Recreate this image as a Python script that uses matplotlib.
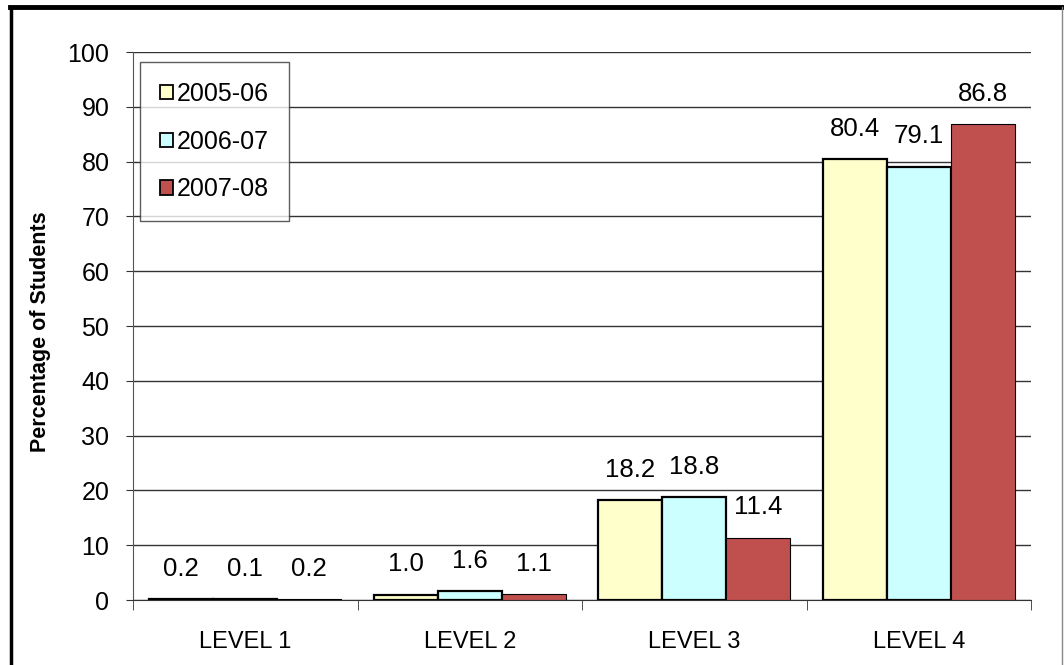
import numpy as np
import matplotlib.pyplot as plt
from matplotlib.lines import Line2D

levels = ['LEVEL 1', 'LEVEL 2', 'LEVEL 3', 'LEVEL 4']
years = ['2005-06', '2006-07', '2007-08']
pct_0506 = [0.2, 1.0, 18.2, 80.4]
pct_0607 = [0.1, 1.6, 18.8, 79.1]
pct_0708 = [0.2, 1.1, 11.4, 86.8]

colors = ['#FFFFCC', '#CCFFFF', '#C0504D']
edge_w = [1.6, 1.6, 0.8]

plt.rcParams['font.family'] = ['Liberation Sans', 'DejaVu Sans']

fig = plt.figure(figsize=(10.64, 6.65), dpi=100)
ax = fig.add_axes([133/1064, 1 - 600/665, 898/1064, 548/665])

x = np.arange(len(levels))
w = 0.285
series = [pct_0506, pct_0607, pct_0708]
for i, vals in enumerate(series):
    bars = ax.bar(x + (i - 1) * w, vals, w, color=colors[i], edgecolor='black',
                  linewidth=edge_w[i], label=years[i], zorder=3)
    ax.bar_label(bars, labels=[f'{v:.1f}' for v in vals], padding=13, fontsize=18.5)

ax.set_xlim(-0.5, 3.5)
ax.set_ylim(0, 100)
ax.set_yticks(range(0, 101, 10))
ax.yaxis.grid(True, color='#333333', linewidth=1)
ax.set_axisbelow(True)

ax.set_xticks(x)
ax.set_xticklabels(levels, fontsize=17)
ax.tick_params(axis='x', which='major', length=0, pad=22)
ax.set_xticks(np.arange(-0.5, 3.6, 1), minor=True)
ax.tick_params(axis='x', which='minor', length=7, color='#333333')
ax.tick_params(axis='y', length=5, pad=12, labelsize=18, color='#333333')

for s in ['top', 'right']:
    ax.spines[s].set_visible(False)
ax.spines['left'].set_color('#555555')
ax.spines['bottom'].set_color('#333333')

ax.set_ylabel('Percentage of Students', fontsize=15.5, fontweight='bold')
ax.yaxis.set_label_coords(-0.091, 0.49)

leg = ax.legend(loc='upper left', bbox_to_anchor=(0.008, 0.982), borderaxespad=0,
                fontsize=18, frameon=True, fancybox=False, edgecolor='#333333',
                handlelength=0.5, handleheight=0.5, handletextpad=0.15,
                labelspacing=0.95, borderpad=0.8)
leg.get_frame().set_linewidth(1)
for h in leg.legend_handles:
    h.set_linewidth(1.3)
    h.set_edgecolor('black')

# outer frame of the picture
fig.add_artist(Line2D([10/1064, 1], [1 - 7/665, 1 - 7/665], transform=fig.transFigure,
                      color='black', linewidth=3.5))
fig.add_artist(Line2D([11/1064, 11/1064], [0, 1 - 7/665], transform=fig.transFigure,
                      color='black', linewidth=2.5))
fig.add_artist(Line2D([1062/1064, 1062/1064], [0, 1 - 7/665], transform=fig.transFigure,
                      color='#888888', linewidth=1))

fig.savefig('out.png', dpi=100)
